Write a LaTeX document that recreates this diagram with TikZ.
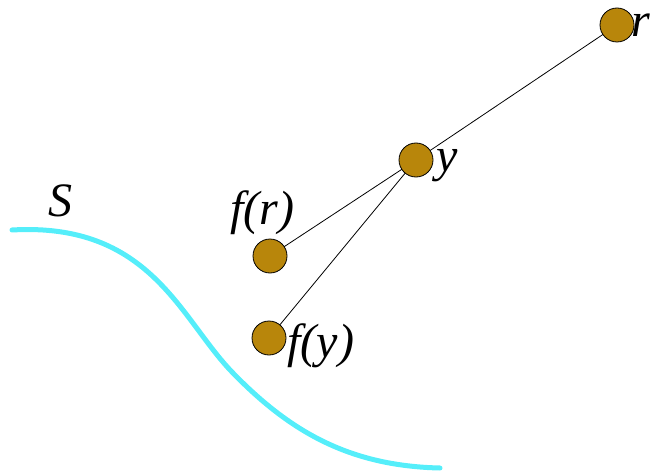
\documentclass[tikz,border=0pt]{standalone}
\usepackage{fontspec}
\setmainfont{Liberation Serif}
\usetikzlibrary{backgrounds}
\definecolor{puntocol}{RGB}{184,134,11}
\definecolor{curvacol}{RGB}{85,238,250}
\begin{document}
\begin{tikzpicture}[x=1pt,y=-1pt,
    punto/.style={circle,draw=black,fill=puntocol,minimum size=34pt,inner sep=0pt,line width=0.8pt},
    etich/.style={font=\fontsize{48}{48}\itshape,inner sep=0pt}]
     \useasboundingbox (0,0) rectangle (652,473);
     % superficie S
     \draw[curvacol,line width=5pt,line cap=round]
        (12,230) .. controls (150,222) and (180,318) .. (232,372)
        .. controls (290,432) and (350,466) .. (440,468);
     \node[etich] (S) at (60,201) {S};

     % punti
     \node[punto] (r) at (617,25) {};
     \node[punto] (y) at (416,160) {};
     \node[punto] (fr) at (270,256) {};
     \node[punto] (fy) at (269,338) {};

     %creo linee, sotto i punti
     \begin{pgfonlayer}{background}
     \draw[line width=0.8pt] (r.center)--(y.center) (y.center)--(fr.center) (y.center)--(fy.center);
     \end{pgfonlayer}

     % etichette
     \node[etich,anchor=west] (lr) at ([xshift=-3pt,yshift=0pt]r.east) {r};
     \node[etich,anchor=west] (ly) at ([xshift=3pt,yshift=-6pt]y.east) {y};
     \node[etich] (lfr) at (262,213) {f(r)};
     \node[etich,anchor=west] (lfy) at ([xshift=1pt,yshift=-8pt]fy.east) {f(y)};
\end{tikzpicture}
\end{document}
